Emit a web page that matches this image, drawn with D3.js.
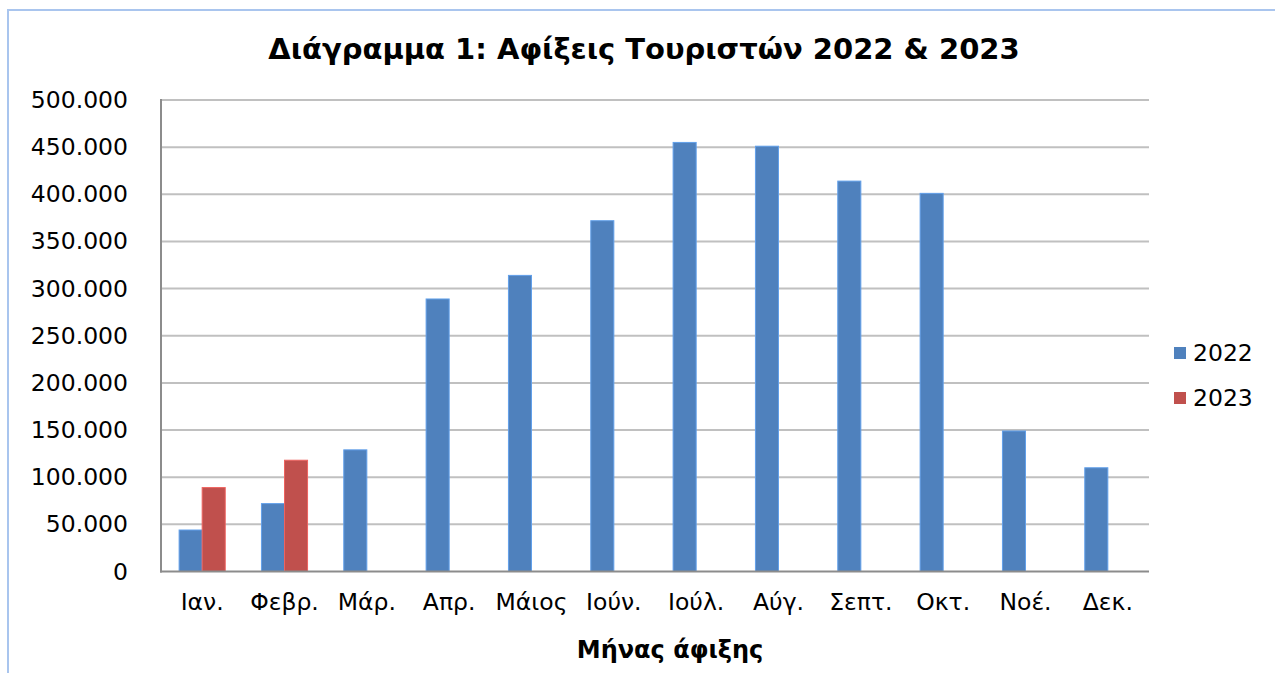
<!DOCTYPE html>
<html><head><meta charset="utf-8">
<script src="https://cdn.jsdelivr.net/npm/d3@7"></script>
<style>body{margin:0;background:#fff;} svg{display:block;}</style>
</head><body>
<svg id="c" width="1275" height="673"></svg>
<script>
const months = ["Ιαν.","Φεβρ.","Μάρ.","Απρ.","Μάιος","Ιούν.","Ιούλ.","Αύγ.","Σεπτ.","Οκτ.","Νοέ.","Δεκ."];
const series = ["2022","2023"];
const values2022 = [44000,72000,129000,289000,314000,372000,455000,451000,414000,401000,149000,110000];
const values2023 = [89000,118000,null,null,null,null,null,null,null,null,null,null];
const yTicks = [0,50000,100000,150000,200000,250000,300000,350000,400000,450000,500000];
const colors = ["#4F81BD","#C0504D"];
const titleText = "Διάγραμμα 1: Αφίξεις Τουριστών 2022 & 2023";
const xTitle = "Μήνας άφιξης";

const svg = d3.select("#c");
const font = "Verdana, 'DejaVu Sans', sans-serif";
const L = 161, R = 1149, T = 100, B = 571.5;

// outer border
svg.append("rect").attr("x",8).attr("y",10).attr("width",1300).attr("height",700)
  .attr("fill","none").attr("stroke","#a9c5ee").attr("stroke-width",2);

const x = d3.scaleBand().domain(months).range([L,R]).paddingInner(0.44).paddingOuter(0.22);
const xs = d3.scaleBand().domain(series).range([0,x.bandwidth()]);
const y = d3.scaleLinear().domain([0,500000]).range([B,T]);

// gridlines
svg.append("g").selectAll("line").data(yTicks.filter(d=>d>0)).join("line")
  .attr("x1",L).attr("x2",R).attr("y1",d=>y(d)).attr("y2",d=>y(d))
  .attr("stroke","#c0c0c0").attr("stroke-width",2);

// bars
const data = [];
months.forEach((m,i)=>{
  [values2022[i],values2023[i]].forEach((v,j)=>{ if(v!=null) data.push({m, s:series[j], v, c:colors[j]}); });
});
svg.append("g").selectAll("rect").data(data).join("rect")
  .attr("x",d=>x(d.m)+xs(d.s)).attr("width",xs.bandwidth())
  .attr("y",d=>y(d.v)).attr("height",d=>B-y(d.v))
  .attr("fill",d=>d.c).attr("stroke",d=>d3.color(d.c).brighter(0.6)).attr("stroke-width",1);

// y axis
const yAxis = d3.axisLeft(y).tickValues(yTicks).tickSize(0).tickPadding(33)
  .tickFormat(d=>d3.format(",")(d).replace(/,/g,"."));
const gy = svg.append("g").attr("transform",`translate(${L},0)`).call(yAxis);
gy.select(".domain").remove();
gy.selectAll("text").attr("font-family",font).attr("font-size",23.5).attr("fill","#000");
svg.append("line").attr("x1",L).attr("x2",L).attr("y1",T-1).attr("y2",B+1)
  .attr("stroke","#8c8c8c").attr("stroke-width",2);

// x axis
const xAxis = d3.axisBottom(x).tickSize(0).tickPadding(22);
const gx = svg.append("g").attr("transform",`translate(0,${B})`).call(xAxis);
gx.select(".domain").remove();
gx.selectAll("text").attr("font-family",font).attr("font-size",23.5).attr("fill","#000");
svg.append("line").attr("x1",L-1).attr("x2",R).attr("y1",B).attr("y2",B)
  .attr("stroke","#8c8c8c").attr("stroke-width",2);

// title
svg.append("text").attr("x",644).attr("y",59).attr("text-anchor","middle")
  .attr("font-family",font).attr("font-weight","bold").attr("font-size",29).text(titleText);
svg.append("text").attr("x",670).attr("y",658).attr("text-anchor","middle")
  .attr("font-family",font).attr("font-weight","bold").attr("font-size",24).text(xTitle);

// legend
const lg = svg.append("g");
series.forEach((s,i)=>{
  const cy = 353 + i*45;
  lg.append("rect").attr("x",1174).attr("y",cy-6).attr("width",12).attr("height",12).attr("fill",colors[i]);
  lg.append("text").attr("x",1193).attr("y",cy).attr("dy","0.36em")
    .attr("font-family",font).attr("font-size",23.5).text(s);
});
</script>
</body></html>
